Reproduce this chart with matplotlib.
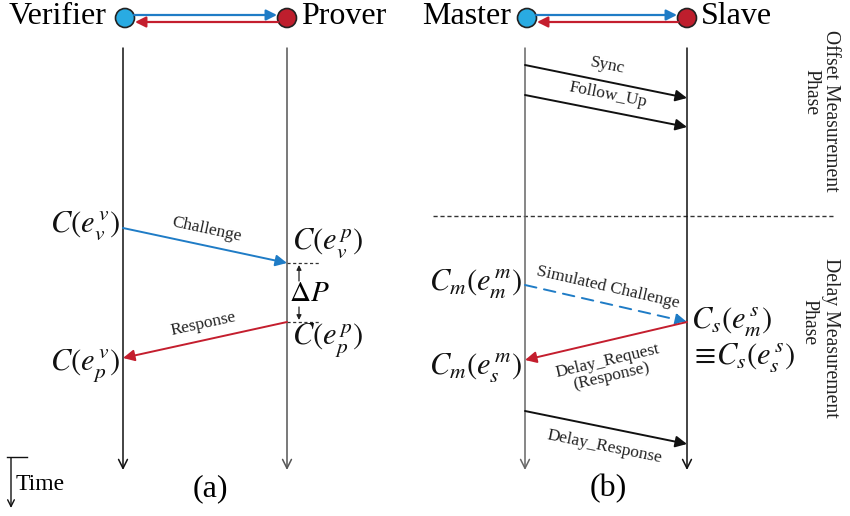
import matplotlib
matplotlib.use("Agg")
import matplotlib.pyplot as plt
from matplotlib.patches import Circle
import numpy as np

plt.rcParams['font.family'] = ['Liberation Serif', 'DejaVu Serif']
plt.rcParams['mathtext.fontset'] = 'stix'

# ---- data ----
participants = ["Verifier", "Prover", "Master", "Slave"]
lifeline_x = [123, 287, 525, 687]
lifeline_top = 48
lifeline_bottom = 470
panel_labels = ["(a)", "(b)"]

# messages: (from index, to index, y_from, y_to, label, color, linestyle)
msg_from = [0, 1, 2, 2, 2, 3, 2]
msg_to = [1, 0, 3, 3, 3, 2, 3]
msg_y0 = [228, 322, 65, 95, 285, 322, 411]
msg_y1 = [263, 358, 98, 127, 322, 360, 444]
msg_labels = ["Challenge", "Response", "Sync", "Follow_Up",
              "Simulated Challenge", "Delay_Request\n(Response)", "Delay_Response"]
msg_colors = ["#1f7cc6", "#c41e2e", "#111111", "#111111", "#1f7cc6", "#c41e2e", "#111111"]
msg_styles = ["-", "-", "-", "-", (0, (6, 4)), "-", "-"]

event_labels = [r"$C(e_v^{\,v})$", r"$C(e_v^{\,p})$", r"$C(e_p^{\,p})$", r"$C(e_p^{\,v})$",
                r"$C_m(e_m^{\,m})$", r"$C_s(e_m^{\,s})$", r"$\equiv\!C_s(e_s^{\,s})$", r"$C_m(e_s^{\,m})$"]

BLUE = "#1f7cc6"
RED = "#c41e2e"

fig = plt.figure(figsize=(8.5, 5.16), dpi=100)
ax = fig.add_axes([0, 0, 1, 1])
ax.set_xlim(0, 850)
ax.set_ylim(516, 0)
ax.axis('off')

# lifelines
line_cols = ["#111111", "#555555", "#666666", "#111111"]
for x, c in zip(lifeline_x, line_cols):
    ax.annotate("", xy=(x, lifeline_bottom), xytext=(x, lifeline_top),
                arrowprops=dict(arrowstyle="->", lw=1.1, color=c, shrinkA=0, shrinkB=0,
                                mutation_scale=16))

# header circles and arrows
for (i, j) in [(0, 1), (2, 3)]:
    xa, xb = lifeline_x[i] + 2, lifeline_x[j]
    ax.add_patch(Circle((xa, 18), 9.5, facecolor="#29abe2", edgecolor="#222222", lw=1.2, zorder=3))
    ax.add_patch(Circle((xb, 18), 9.5, facecolor="#be1e2d", edgecolor="#222222", lw=1.2, zorder=3))
    ax.annotate("", xy=(xb - 10, 15), xytext=(xa + 9, 15),
                arrowprops=dict(arrowstyle="-|>", lw=1.6, color=BLUE, shrinkA=0, shrinkB=0,
                                mutation_scale=16))
    ax.annotate("", xy=(xa + 10, 22), xytext=(xb - 9, 22),
                arrowprops=dict(arrowstyle="-|>", lw=1.6, color=RED, shrinkA=0, shrinkB=0,
                                mutation_scale=16))

ax.text(lifeline_x[0] - 16, 16, participants[0], ha="right", va="center", fontsize=23)
ax.text(lifeline_x[1] + 14, 16, participants[1], ha="left", va="center", fontsize=23)
ax.text(lifeline_x[2] - 14, 16, participants[2], ha="right", va="center", fontsize=23)
ax.text(lifeline_x[3] + 14, 16, participants[3], ha="left", va="center", fontsize=23)

# messages
label_offsets = [-8, -8, -8, -8, -8, 12, 12]
for k in range(len(msg_labels)):
    x0 = lifeline_x[msg_from[k]]
    x1 = lifeline_x[msg_to[k]]
    y0, y1 = msg_y0[k], msg_y1[k]
    ax.annotate("", xy=(x1, y1), xytext=(x0, y0),
                arrowprops=dict(arrowstyle="-|>", lw=1.4, color=msg_colors[k],
                                linestyle=msg_styles[k], shrinkA=0, shrinkB=0,
                                mutation_scale=17))
    ang = -np.degrees(np.arctan2(y1 - y0, x1 - x0))
    if ang > 90:
        ang -= 180
    if ang < -90:
        ang += 180
    dy = label_offsets[k]
    mx, my = (x0 + x1) / 2, (y0 + y1) / 2
    ax.text(mx, my + dy, msg_labels[k], rotation=ang, rotation_mode="anchor",
            ha="center", va="bottom" if dy < 0 else "top", fontsize=12.5,
            color="#222222", linespacing=1.0)

# event labels
ev_pos = [(120, 226, "right"), (292, 243, "left"), (292, 340, "left"), (120, 366, "right"),
          (522, 284, "right"), (691, 322, "left"), (690, 358, "left"), (522, 368, "right")]
for (x, y, ha), lab in zip(ev_pos, event_labels):
    ax.text(x, y, lab, ha=ha, va="center", fontsize=22, color="#111111")

# Delta P marker
ax.plot([lifeline_x[1], lifeline_x[1] + 32], [263, 263], ls=(0, (2.5, 2)), color="#333333", lw=0.9)
ax.plot([lifeline_x[1], lifeline_x[1] + 32], [322, 322], ls=(0, (2.5, 2)), color="#333333", lw=0.9)
ax.annotate("", xy=(299, 265), xytext=(299, 281),
            arrowprops=dict(arrowstyle="-|>", lw=0.9, color="#222222", shrinkA=0, shrinkB=0, mutation_scale=7))
ax.annotate("", xy=(299, 320), xytext=(299, 307),
            arrowprops=dict(arrowstyle="-|>", lw=0.9, color="#222222", shrinkA=0, shrinkB=0, mutation_scale=7))
ax.text(289, 294, r"$\Delta P$", ha="left", va="center", fontsize=21)

# phase separator
ax.plot([433, 833], [216, 216], ls=(0, (3, 2)), color="#333333", lw=1)
ax.text(831, 111, "Offset Measurement", rotation=-90, ha="center", va="center", fontsize=14.2, color="#222222")
ax.text(811, 92, "Phase", rotation=-90, ha="center", va="center", fontsize=14.2, color="#222222")
ax.text(831, 338, "Delay Measurement", rotation=-90, ha="center", va="center", fontsize=14.2, color="#222222")
ax.text(809, 322, "Phase", rotation=-90, ha="center", va="center", fontsize=14.2, color="#222222")

# time legend
ax.plot([7, 27], [457, 457], color="#111111", lw=1)
ax.annotate("", xy=(11, 508), xytext=(11, 458),
            arrowprops=dict(arrowstyle="->", lw=1.0, color="#111111", shrinkA=0, shrinkB=0, mutation_scale=12))
ax.text(16, 484, "Time", ha="left", va="center", fontsize=17)

ax.text(210, 489, panel_labels[0], ha="center", va="center", fontsize=23)
ax.text(608, 489, panel_labels[1], ha="center", va="center", fontsize=23)

fig.savefig("out.png", dpi=100)
